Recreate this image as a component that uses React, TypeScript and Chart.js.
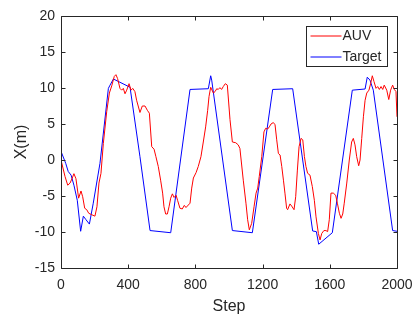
import React, { useEffect, useRef } from "react";
import { Chart, registerables } from "chart.js";

Chart.register(...registerables);

// ---- data ----
const auvSteps = [
  0, 24, 40, 54, 67, 77, 89, 105, 119, 129, 141, 153, 165, 183, 202, 214, 226, 238, 252, 272,
  288, 302, 317, 327, 337, 351, 361, 371, 381, 391, 405, 417, 427, 440, 450, 470, 484, 500, 514, 526,
  540, 554, 565, 579, 593, 605, 613, 623, 633, 643, 653, 663, 673, 685, 694, 708, 722, 734, 744, 758,
  768, 778, 788, 804, 817, 833, 847, 861, 873, 881, 891, 907, 917, 927, 936, 946, 956, 966, 978, 990,
  1006, 1020, 1040, 1055, 1065, 1085, 1101, 1111, 1121, 1135, 1149, 1161, 1171, 1180, 1195, 1208, 1218, 1230, 1240, 1250,
  1264, 1274, 1284, 1294, 1304, 1314, 1324, 1333, 1343, 1349, 1363, 1373, 1387, 1397, 1407, 1417, 1429, 1439, 1449, 1458,
  1468, 1482, 1496, 1508, 1518, 1532, 1542, 1552, 1565, 1577, 1587, 1597, 1607, 1621, 1635, 1645, 1657, 1667, 1677, 1686,
  1701, 1716, 1730, 1740, 1750, 1760, 1772, 1780, 1790, 1800, 1810, 1820, 1833, 1843, 1853, 1863, 1875, 1885, 1895, 1905,
  1915, 1924, 1939, 1951, 1962, 1974, 1984, 1994, 2000,
];
const auvValues = [
  0, -2.3, -3.5, -3.2, -2.5, -1.9, -2.6, -5.3, -4.3, -5.1, -6.7, -6.9, -7.4, -7.6, -7.8, -6.5, -3.2, -1.85, 2.3, 6.7,
  9.3, 10.3, 11.6, 11.85, 11.3, 9.95, 9.7, 9.95, 9.2, 9.7, 10.6, 9.7, 9.95, 9.5, 8.3, 6.6, 7.5, 7.5, 6.9, 6.5,
  1.85, 1.5, 0.46, -0.9, -2.8, -4.6, -6.5, -7.5, -7.5, -6.5, -5.3, -4.7, -5.2, -4.9, -5.6, -6.7, -6.8, -6.3, -6.6, -6.25,
  -6.0, -3.9, -2.5, -1.75, -0.9, 0.46, 2.5, 4.6, 6.9, 8.8, 10.1, 9.3, 9.5, 9.9, 9.8, 10.05, 9.8, 10.2, 10.6, 10.4,
  5.6, 2.5, 2.4, 2.1, 1.6, -2.8, -6.0, -8.3, -9.7, -8.8, -6.5, -4.6, -3.9, -2.3, 0.46, 3.9, 4.4, 4.3, 4.6, 5.0,
  5.2, 4.9, 2.8, 0.9, 0.7, -0.9, -2.8, -4.6, -6.7, -6.9, -6.1, -6.4, -6.9, -5.1, -1.4, 1.85, 3.0, 2.8, 0.46, -0.9,
  -1.85, -2.1, -3.7, -5.6, -7.9, -10.2, -11.1, -10.2, -9.8, -9.8, -9.95, -8.3, -4.6, -4.6, -4.9, -6.0, -7.4, -8.1, -7.5, -6.0,
  -3.2, 0, 2.5, 3.0, 2.1, 0.46, -0.8, 0, 3.0, 6.0, 8.3, 9.3, 9.7, 10.6, 11.7, 10.9, 9.95, 10.2, 9.8, 10.2,
  9.8, 10.4, 9.7, 8.4, 9.7, 10.4, 9.8, 9.5, 6.0,
];
const targetSteps = [
  0, 28, 43, 60, 77, 97, 117, 133, 149, 169, 192, 232, 282, 292, 312, 411, 470, 530, 653, 768,
  877, 891, 897, 1020, 1139, 1260, 1379, 1498, 1520, 1534, 1615, 1734, 1810, 1823, 1839, 1859, 1974, 2000,
];
const targetValues = [
  1.2, -0.46, -1.6, -2.1, -3.5, -5.6, -9.9, -7.8, -8.3, -8.9, -6.0, -0.46, 9.95, 10.4, 11.25, 10.1, 0.46, -9.8, -10.1, 9.8,
  9.9, 11.7, 11.1, -9.8, -10.1, 9.8, 9.9, -9.86, -9.95, -11.7, -10.1, 9.7, 9.86, 11.5, 11.1, 9.7, -9.8, -9.9,
];
const seriesLabels = ["AUV", "Target"];
const xTitle = "Step";
const yTitle = "X(m)";
const xRange = [0, 2000];
const yRange = [-15, 20];
const xTickStep = 400;
const yTickStep = 5;

// ---- styles ----
const AXIS = "#262626";
const FONT = "'Liberation Sans', Arial, Helvetica, sans-serif";
const RED = "#ff0000";
const BLUE = "#0000ff";

const framePlugin = {
  id: "matlabFrame",
  afterDraw(chart: any) {
    const { ctx, chartArea: a, scales } = chart;
    const L = Math.round(a.left) + 0.5;
    const R = Math.round(a.right) + 0.5;
    const T = Math.round(a.top) + 0.5;
    const B = Math.round(a.bottom) + 0.5;
    const tl = 4;
    ctx.save();
    ctx.strokeStyle = AXIS;
    ctx.lineWidth = 1;
    ctx.beginPath();
    ctx.rect(L, T, R - L, B - T);
    for (const t of scales.x.ticks) {
      const px = Math.round(scales.x.getPixelForValue(t.value)) + 0.5;
      ctx.moveTo(px, B);
      ctx.lineTo(px, B - tl);
      ctx.moveTo(px, T);
      ctx.lineTo(px, T + tl);
    }
    for (const t of scales.y.ticks) {
      const py = Math.round(scales.y.getPixelForValue(t.value)) + 0.5;
      ctx.moveTo(L, py);
      ctx.lineTo(L + tl, py);
      ctx.moveTo(R, py);
      ctx.lineTo(R - tl, py);
    }
    ctx.stroke();

    // legend (inside, top right)
    const w = 81;
    const h = 40;
    const bx = Math.round(a.right) - 10 - w + 0.5;
    const by = Math.round(a.top) + 10 + 0.5;
    ctx.fillStyle = "#ffffff";
    ctx.fillRect(bx, by, w, h);
    ctx.strokeStyle = AXIS;
    ctx.strokeRect(bx, by, w, h);
    ctx.font = `14px ${FONT}`;
    ctx.textBaseline = "middle";
    ctx.textAlign = "left";
    chart.data.datasets.forEach((ds: any, i: number) => {
      const yy = by + 9.5 + i * 21;
      ctx.strokeStyle = ds.borderColor;
      ctx.lineWidth = 1;
      ctx.beginPath();
      ctx.moveTo(bx + 4, yy);
      ctx.lineTo(bx + 35, yy);
      ctx.stroke();
      ctx.fillStyle = AXIS;
      ctx.fillText(ds.label, bx + 36, yy + 0.5);
    });
    ctx.restore();
  },
};

export default function App() {
  const canvasRef = useRef<HTMLCanvasElement | null>(null);

  useEffect(() => {
    if (!canvasRef.current) return;
    const chart = new Chart(canvasRef.current, {
      type: "line",
      data: {
        datasets: [
          {
            label: seriesLabels[0],
            data: auvSteps.map((s, i) => ({ x: s, y: auvValues[i] })),
            borderColor: RED,
            backgroundColor: RED,
            borderWidth: 1,
            pointRadius: 0,
            tension: 0,
          },
          {
            label: seriesLabels[1],
            data: targetSteps.map((s, i) => ({ x: s, y: targetValues[i] })),
            borderColor: BLUE,
            backgroundColor: BLUE,
            borderWidth: 1,
            pointRadius: 0,
            tension: 0,
          },
        ],
      },
      options: {
        responsive: false,
        animation: false,
        events: [],
        layout: { padding: { top: 16, right: 16, left: 0, bottom: 0 } },
        plugins: { legend: { display: false }, tooltip: { enabled: false } },
        scales: {
          x: {
            type: "linear",
            min: xRange[0],
            max: xRange[1],
            grid: { display: false, drawTicks: false },
            border: { display: false },
            ticks: {
              stepSize: xTickStep,
              padding: 9,
              color: AXIS,
              font: { family: FONT, size: 14 },
              maxRotation: 0,
              callback: (v: any) => String(v),
            },
            title: {
              display: true,
              text: xTitle,
              color: AXIS,
              font: { family: FONT, size: 16 },
              padding: { top: 0, bottom: 6 },
            },
            afterFit: (s: any) => {
              s.height = 54;
              s.paddingLeft = 0;
              s.paddingRight = 0;
            },
          },
          y: {
            type: "linear",
            min: yRange[0],
            max: yRange[1],
            grid: { display: false, drawTicks: false },
            border: { display: false },
            ticks: {
              stepSize: yTickStep,
              padding: 6,
              color: AXIS,
              font: { family: FONT, size: 14 },
              callback: (v: any) => String(v),
            },
            title: {
              display: true,
              text: yTitle,
              color: AXIS,
              font: { family: FONT, size: 16 },
              padding: { top: 12, bottom: 0 },
            },
            afterFit: (s: any) => {
              s.width = 61;
              s.paddingTop = 0;
              s.paddingBottom = 0;
            },
          },
        },
      },
      plugins: [framePlugin],
    } as any);
    return () => chart.destroy();
  }, []);

  return (
    <div style={{ position: "fixed", left: 0, top: 0, width: 413, height: 322, background: "#fff" }}>
      <canvas ref={canvasRef} width={413} height={322} style={{ display: "block" }} />
    </div>
  );
}
